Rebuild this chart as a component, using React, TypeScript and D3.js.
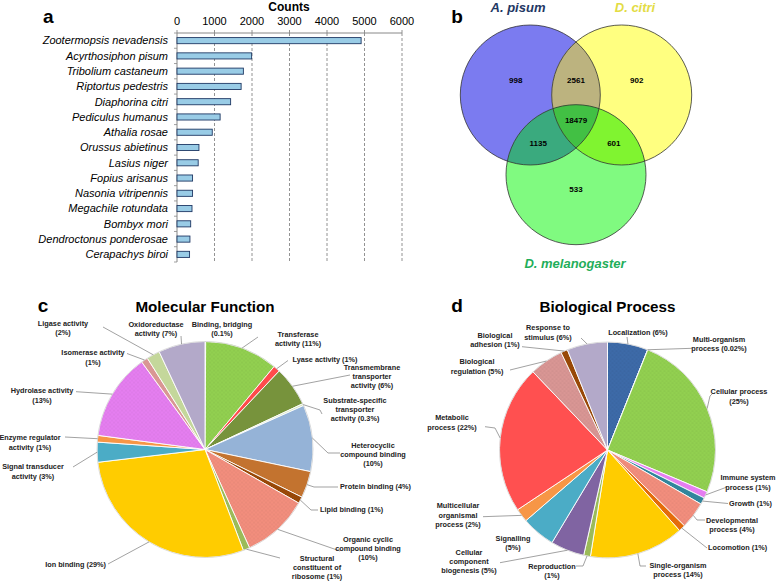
import React from 'react';
import * as d3 from 'd3';

// ---- panel a data ----
const species = [
  'Zootermopsis nevadensis', 'Acyrthosiphon pisum', 'Tribolium castaneum', 'Riptortus pedestris',
  'Diaphorina citri', 'Pediculus humanus', 'Athalia rosae', 'Orussus abietinus', 'Lasius niger',
  'Fopius arisanus', 'Nasonia vitripennis', 'Megachile rotundata', 'Bombyx mori',
  'Dendroctonus ponderosae', 'Cerapachys biroi',
];
const counts = [4910, 1990, 1770, 1710, 1430, 1150, 940, 585, 565, 415, 415, 400, 365, 345, 335];
const countTicks = [0, 1000, 2000, 3000, 4000, 5000, 6000];

// ---- panel b data ----
const vennSets = ['A. pisum', 'D. citri', 'D. melanogaster'];
const vennRegions = ['A', 'B', 'C', 'AB', 'AC', 'BC', 'ABC'];
const vennValues = [998, 902, 533, 2561, 1135, 601, 18479];

// ---- panel c data ----
const mfNames = [
  'Binding, bridging', 'Transferase activity', 'Lyase activity', 'Transmembrane transporter activity',
  'Substrate-specific transporter activity', 'Heterocyclic compound binding', 'Protein binding',
  'Lipid binding', 'Organic cyclic compound binding', 'Structural constituent of ribosome',
  'Ion binding', 'Signal transducer activity', 'Enzyme regulator activity', 'Hydrolase activity',
  'Isomerase activity', 'Ligase activity', 'Oxidoreductase activity',
];
const mfValues = [0.1, 11, 1, 6, 0.3, 10, 4, 1, 10, 1, 29, 3, 1, 13, 1, 2, 7];
const mfColors = [
  '#7f7f7f', '#92d050', '#ff4b4b', '#77933c', '#d7e4bd', '#95b3d7', '#c3732f', '#984807',
  '#f28e7d', '#9bbb59', '#ffcc00', '#4bacc6', '#f79646', '#e57ef0', '#d99694', '#c4d79b', '#b3a9c9',
];
// slices drawn with a dotted texture in the original
const mfDotted = ['Transferase activity', 'Organic cyclic compound binding', 'Hydrolase activity'];

// ---- panel d data ----
const bpNames = [
  'Localization', 'Multi-organism process', 'Cellular process', 'Immune system process', 'Growth',
  'Developmental process', 'Locomotion', 'Single-organism process', 'Reproduction',
  'Cellular component biogenesis', 'Signalling', 'Multicellular organismal process',
  'Metabolic process', 'Biological regulation', 'Biological adhesion', 'Response to stimulus',
];
const bpValues = [6, 0.02, 25, 1, 1, 4, 1, 14, 1, 5, 5, 2, 22, 5, 1, 6];
const bpColors = [
  '#3d6aa8', '#4f81bd', '#92d050', '#e57ef0', '#31859c', '#f28e7d', '#e46c0a', '#ffcc00',
  '#9bbb59', '#8064a2', '#4bacc6', '#f79646', '#ff5050', '#d99694', '#984807', '#b3a9c9',
];
const bpDotted = ['Localization', 'Cellular process', 'Developmental process', 'Biological regulation'];

const FONT = '"Liberation Sans", Arial, Helvetica, sans-serif';

type Label = { i: number; lines: string[]; x: number; y: number; anchor?: string; pts?: number[][] };

const mfLabels: Label[] = [
  { i: 0, lines: ['Binding, bridging', '(0.1%)'], x: 222, y: 324.3 },
  { i: 1, lines: ['Transferase', 'activity (11%)'], x: 298, y: 334.3, pts: [[258, 337]] },
  { i: 2, lines: ['Lyase activity (1%)'], x: 325, y: 359.3, pts: [[288, 360.5]] },
  { i: 3, lines: ['Transmembrane', 'transporter', 'activity (6%)'], x: 372, y: 367.3, pts: [[350, 375]] },
  { i: 4, lines: ['Substrate-specific', 'transporter', 'activity (0.3%)'], x: 355, y: 400, pts: [[320, 410], [322, 414]] },
  { i: 5, lines: ['Heterocyclic', 'compound binding', '(10%)'], x: 373, y: 445, pts: [[328, 453], [340, 453]] },
  { i: 6, lines: ['Protein binding (4%)'], x: 340, y: 486.5, anchor: 'start', pts: [[314, 487], [338, 487]] },
  { i: 7, lines: ['Lipid binding (1%)'], x: 320, y: 509.5, anchor: 'start', pts: [[311, 510], [318, 510]] },
  { i: 8, lines: ['Organic cyclic', 'compound binding', '(10%)'], x: 368, y: 539.3, pts: [[340, 551]] },
  { i: 9, lines: ['Structural', 'constituent of', 'ribosome (1%)'], x: 317, y: 558.3, pts: [[280, 558]] },
  { i: 10, lines: ['Ion binding (29%)'], x: 106, y: 564, anchor: 'end', pts: [[108, 564]] },
  { i: 11, lines: ['Signal transducer', 'activity (3%)'], x: 33, y: 466.7, pts: [[73, 467]] },
  { i: 12, lines: ['Enzyme regulator', 'activity (1%)'], x: 30, y: 437.7, pts: [[65, 437]] },
  { i: 13, lines: ['Hydrolase activity', '(13%)'], x: 42, y: 390.7, pts: [[76, 391.7]] },
  { i: 14, lines: ['Isomerase activity', '(1%)'], x: 93, y: 352.7, pts: [[127, 353.5]] },
  { i: 15, lines: ['Ligase activity', '(2%)'], x: 63, y: 323.3, pts: [[103, 327]] },
  { i: 16, lines: ['Oxidoreductase', 'activity (7%)'], x: 156, y: 324.3, pts: [[181, 336]] },
];

const bpLabels: Label[] = [
  { i: 0, lines: ['Localization (6%)'], x: 638, y: 332.7, pts: [[627, 337]] },
  { i: 1, lines: ['Multi-organism', 'process (0.02%)'], x: 719, y: 339.3, pts: [[692, 348.3]] },
  { i: 2, lines: ['Cellular process', '(25%)'], x: 739, y: 391.7, pts: [[710, 396], [713, 393]] },
  { i: 3, lines: ['Immune system', 'process (1%)'], x: 748, y: 477.7, pts: [[727, 487]] },
  { i: 4, lines: ['Growth (1%)'], x: 729, y: 503.5, anchor: 'start', pts: [[728, 503.5]] },
  { i: 5, lines: ['Developmental', 'process (4%)'], x: 732, y: 520, pts: [[697, 520], [705, 520]] },
  { i: 6, lines: ['Locomotion (1%)'], x: 708, y: 547.5, anchor: 'start', pts: [[707, 548]] },
  { i: 7, lines: ['Single-organism', 'process (14%)'], x: 678, y: 565, pts: [[640, 566], [646, 566]] },
  { i: 8, lines: ['Reproduction', '(1%)'], x: 552, y: 566, pts: [[583, 566], [576, 566]] },
  { i: 9, lines: ['Cellular', 'component', 'biogenesis (5%)'], x: 469, y: 552.3, pts: [[500, 562.7]] },
  { i: 10, lines: ['Signalling', '(5%)'], x: 513, y: 538.3 },
  { i: 11, lines: ['Multicellular', 'organismal', 'process (2%)'], x: 458, y: 505.7, pts: [[483, 516.7]] },
  { i: 12, lines: ['Metabolic', 'process (22%)'], x: 452, y: 417.7, pts: [[495, 428], [485, 426.7]] },
  { i: 13, lines: ['Biological', 'regulation (5%)'], x: 477, y: 361.7, pts: [[510, 370]] },
  { i: 14, lines: ['Biological', 'adhesion (1%)'], x: 495, y: 335, pts: [[522, 346.7]] },
  { i: 15, lines: ['Response to', 'stimulus (6%)'], x: 548, y: 327.7, pts: [[581, 338]] },
];

function BarPanel() {
  const x = d3.scaleLinear().domain([0, 6000]).range([177, 402]);
  const y = d3.scaleBand<string>().domain(species).range([33, 262]).paddingInner(0.6).paddingOuter(0.3);
  const top = 33, bottom = 262;
  const step = y.step();
  return (
    <g fontFamily={FONT}>
      <text x={43} y={23} fontSize={19} fontWeight="bold">a</text>
      <text x={289} y={10.5} fontSize={12} fontWeight="bold" textAnchor="middle">Counts</text>
      {countTicks.map(t => (
        <g key={t}>
          {t > 0 && <line x1={x(t)} x2={x(t)} y1={top} y2={bottom} stroke="#777" strokeWidth={0.8} strokeDasharray="3,2" />}
          <line x1={x(t)} x2={x(t)} y1={top - 3} y2={top} stroke="#777" strokeWidth={0.8} />
          <text x={x(t)} y={24.5} fontSize={11} textAnchor="middle">{t}</text>
        </g>
      ))}
      <line x1={x(0)} x2={x(6000)} y1={top} y2={top} stroke="#888" strokeWidth={1} />
      <line x1={x(0)} x2={x(0)} y1={top} y2={bottom} stroke="#888" strokeWidth={1} />
      {d3.range(species.length + 1).map(k => (
        <line key={k} x1={x(0) - 3} x2={x(0)} y1={top + k * step} y2={top + k * step} stroke="#888" strokeWidth={0.8} />
      ))}
      {species.map((s, i) => (
        <g key={s}>
          <rect x={x(0)} y={y(s)} width={x(counts[i]) - x(0)} height={y.bandwidth()}
            fill="#99cce6" stroke="#1f3864" strokeWidth={0.9} />
          <text x={168} y={(y(s) as number) + y.bandwidth() / 2} dy="0.35em" fontSize={11}
            fontStyle="italic" textAnchor="end">{s}</text>
        </g>
      ))}
    </g>
  );
}

function VennPanel() {
  const r = 70;
  const c = { A: [530.3, 95], B: [621.7, 95], C: [576, 174.7] } as Record<string, number[]>;
  const mid = (keys: string[]) => [d3.mean(keys, k => c[k][0]) as number, d3.mean(keys, k => c[k][1]) as number];
  const offsets: Record<string, number[]> = {
    A: [-14.6, -15], B: [15, -15], C: [0, 14.6], AB: [0, -15], AC: [-15, 8], BC: [15, 8], ABC: [0, -1],
  };
  const pos = (reg: string) => {
    const m = mid(reg.split(''));
    return [m[0] + offsets[reg][0], m[1] + offsets[reg][1]];
  };
  const circ = (k: string, fill: string, clip?: string) => (
    <circle cx={c[k][0]} cy={c[k][1]} r={r} fill={fill} clipPath={clip ? `url(#${clip})` : undefined} />
  );
  return (
    <g fontFamily={FONT}>
      <defs>
        <clipPath id="clipA"><circle cx={c.A[0]} cy={c.A[1]} r={r} /></clipPath>
        <clipPath id="clipB"><circle cx={c.B[0]} cy={c.B[1]} r={r} /></clipPath>
      </defs>
      <text x={457} y={23} fontSize={19} fontWeight="bold" textAnchor="middle">b</text>
      {circ('A', '#7b7bf0')}
      {circ('B', '#ffff80')}
      {circ('C', '#80fa80')}
      {circ('B', '#bcb37f', 'clipA')}
      {circ('C', '#3aaa7e', 'clipA')}
      {circ('C', '#80f430', 'clipB')}
      <g clipPath="url(#clipA)">{circ('C', '#42c044', 'clipB')}</g>
      {['A', 'B', 'C'].map(k => (
        <circle key={k} cx={c[k][0]} cy={c[k][1]} r={r} fill="none" stroke="#333" strokeWidth={0.8} />
      ))}
      {vennRegions.map((reg, i) => {
        const p = pos(reg);
        return <text key={reg} x={p[0]} y={p[1]} dy="0.35em" fontSize={8} fontWeight="bold" textAnchor="middle">{vennValues[i]}</text>;
      })}
      <text x={518} y={11.5} fontSize={13} fontWeight="bold" fontStyle="italic" fill="#1f3864" textAnchor="middle">{vennSets[0]}</text>
      <text x={635} y={11.5} fontSize={13} fontWeight="bold" fontStyle="italic" fill="#e3dc44" textAnchor="middle">{vennSets[1]}</text>
      <text x={575} y={268} fontSize={13} fontWeight="bold" fontStyle="italic" fill="#1fae5a" textAnchor="middle">{vennSets[2]}</text>
    </g>
  );
}

function PiePanel({ id, cx, cy, r, tag, tagX, title, titleX, names, values, colors, dotted, labels }: {
  id: string; cx: number; cy: number; r: number; tag: string; tagX: number; title: string; titleX: number;
  names: string[]; values: number[]; colors: string[]; dotted: string[]; labels: Label[];
}) {
  const arcs = d3.pie<number>().sort(null).value(d => d)(values);
  const arc = d3.arc<d3.PieArcDatum<number>>().innerRadius(0).outerRadius(r);
  const edge = (i: number) => {
    const a = (arcs[i].startAngle + arcs[i].endAngle) / 2;
    return [cx + r * Math.sin(a), cy - r * Math.cos(a)];
  };
  const lh = 9.3;
  return (
    <g fontFamily={FONT}>
      <defs>
        <pattern id={`dots-${id}`} width={4} height={4} patternUnits="userSpaceOnUse">
          <circle cx={1} cy={1} r={0.45} fill="#000" fillOpacity={0.25} />
          <circle cx={3} cy={3} r={0.45} fill="#000" fillOpacity={0.18} />
        </pattern>
      </defs>
      <text x={tagX} y={312} fontSize={19} fontWeight="bold" textAnchor="middle">{tag}</text>
      <text x={titleX} y={312} fontSize={15.2} fontWeight="bold" textAnchor="middle">{title}</text>
      <g transform={`translate(${cx},${cy})`}>
        {arcs.map((a, i) => (
          <g key={names[i]}>
            <path d={arc(a) as string} fill={colors[i]} stroke="#fff" strokeWidth={0.9} strokeLinejoin="round" />
            {dotted.includes(names[i]) && <path d={arc(a) as string} fill={`url(#dots-${id})`} stroke="none" />}
          </g>
        ))}
        <circle r={r} fill="none" stroke="#c8c8c8" strokeWidth={0.6} />
      </g>
      {labels.map(l => {
        const e = edge(l.i);
        const pts = l.pts ? [e, ...l.pts] : null;
        return (
          <g key={l.i}>
            {pts && <polyline points={pts.map(p => p.join(',')).join(' ')} fill="none" stroke="#7a7a7a" strokeWidth={0.7} />}
            {l.lines.map((t, k) => (
              <text key={k} x={l.x} y={l.y + k * lh} dy="0.35em" fontSize={7.3} fontWeight="bold"
                fill="#222" textAnchor={l.anchor || 'middle'}>{t}</text>
            ))}
          </g>
        );
      })}
    </g>
  );
}

export default function App() {
  return (
    <svg width={779} height={582} style={{ position: 'absolute', left: 0, top: 0, background: '#fff' }}>
      <rect width={779} height={582} fill="#fff" />
      <BarPanel />
      <VennPanel />
      <PiePanel id="mf" cx={205} cy={449.5} r={108} tag="c" tagX={43} title="Molecular Function" titleX={205}
        names={mfNames} values={mfValues} colors={mfColors} dotted={mfDotted} labels={mfLabels} />
      <PiePanel id="bp" cx={607.5} cy={450} r={108} tag="d" tagX={457} title="Biological Process" titleX={607.5}
        names={bpNames} values={bpValues} colors={bpColors} dotted={bpDotted} labels={bpLabels} />
    </svg>
  );
}
